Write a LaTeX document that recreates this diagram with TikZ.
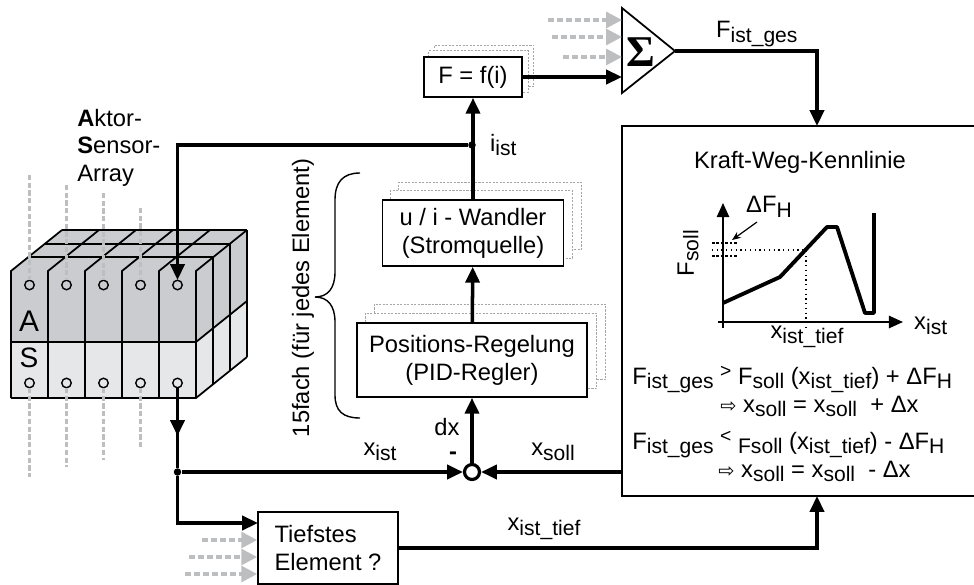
\documentclass[tikz,border=0pt]{standalone}
\usepackage{fontspec}
\setmainfont{Liberation Sans}
\newfontfamily\symf{DejaVu Sans}
\newfontfamily\sigf{Liberation Serif}
\usepackage{tikz}
\usetikzlibrary{calc, arrows.meta, positioning, backgrounds, decorations.markings}
\usepackage{xcolor}

\definecolor{actgray}{HTML}{CBCCCF}
\definecolor{sengray}{HTML}{E6E7E8}
\definecolor{ghostgray}{HTML}{BDBEC0}

% lowered subscript as set in the sketch
\newcommand{\sbs}[1]{\raisebox{-0.35ex}{\fontsize{12pt}{13pt}\selectfont #1}}

\tikzset{
  blk/.style={draw, fill=white, line width=1pt, align=center, inner sep=0pt},
  sig/.style={line width=2pt, -{Triangle[length=9pt,width=8pt]}},
  ghost/.style={draw=ghostgray, line width=1.9pt, dash pattern=on 3.5pt off 1.6pt,
    -{Triangle[length=9pt,width=9pt,fill=ghostgray]}},
  gline/.style={draw=ghostgray, line width=1.8pt, dash pattern=on 3pt off 1.4pt},
  shd/.style={draw=gray!70, fill=white, line width=0.5pt, dash pattern=on 1.2pt off 0.8pt},
  dot/.style={circle, fill, inner sep=0pt, minimum size=0.15cm},
  midarrow/.style={postaction={decorate}, decoration={markings,
    mark=at position 0.6 with {\arrow{Triangle[length=9pt,width=8pt]}}}}
}

\begin{document}
\begin{tikzpicture}[x=0.02cm, y=-0.02cm, font=\fontsize{13.5pt}{16pt}\selectfont]
  \useasboundingbox (0,0) rectangle (974,585);

  % --- Aktor-Sensor-Array (block with 5 columns visible) ---
  \fill[actgray] (11,271) -- (196,271) -- (247,230) -- (62,230) -- cycle;
  \fill[actgray] (196,271) -- (247,230) -- (247,301) -- (196,342) -- cycle;
  \fill[sengray] (196,342) -- (247,301) -- (247,357) -- (196,398) -- cycle;
  \fill[actgray] (11,271) rectangle (196,342);
  \fill[sengray] (11,342) rectangle (196,398);
  \begin{scope}[line width=1pt]
    \foreach \i in {0,...,5}
      \draw (11+37*\i,398) -- (11+37*\i,271) -- ++(51,-41);
    \foreach \k in {1,2,3} {
      \draw (11+17*\k,271-13.67*\k) -- ++(185,0);
      \draw (196+17*\k,271-13.67*\k) -- ++(0,127);
    }
    \draw (11,342) -- (196,342) -- (247,301);
    \draw (11,398) -- (196,398) -- (247,357);
  \end{scope}
  \foreach \i in {0,...,4} {
    \draw[fill=actgray, line width=0.8pt] (29.5+37*\i,285) circle (0.095cm);
    \draw[fill=sengray, line width=0.8pt] (29.5+37*\i,383) circle (0.095cm);
  }
  \node (alab) at (29,321) {\fontsize{17pt}{17pt}\selectfont A};
  \node (slab) at (29,358) {\fontsize{16pt}{16pt}\selectfont S};
  \foreach \x/\t/\b in {29.5/175/477, 66.5/185/467, 103.5/193/460, 140.5/208/448} {
    \draw[gline] (\x,\t) -- (\x,280);
    \draw[gline] (\x,388) -- (\x,\b);
  }
  \node[align=left, anchor=north west, inner sep=0pt, font=\fontsize{13.5pt}{15.6pt}\selectfont]
    (asa) at (77,109) {\textbf{A}ktor-\\\textbf{S}ensor-\\Array};

  % --- blocks ---
  \node[blk, minimum width=1.96cm, minimum height=0.8cm] (ffi) at (473,77) {F = f(i)};
  \node[blk, minimum width=3.62cm, minimum height=1.32cm] (uiw) at (473,233)
    {u / i - Wandler\\(Stromquelle)};
  \node[blk, minimum width=4.6cm, minimum height=1.48cm] (pid) at (472,360)
    {Positions-Regelung\\(PID-Regler)};
  \node[blk, minimum width=2.8cm, minimum height=1.44cm, align=left] (tief) at (328,548)
    {Tiefstes\\Element ?};
  \node[blk, minimum width=7.26cm, minimum height=7.4cm] (kwk) at (803.5,311) {};

  % stacked copies behind the per-element blocks
  \begin{scope}[on background layer]
    \foreach \b/\d in {ffi/5.5, uiw/8.5, pid/9}
      \foreach \k in {2,1}
        \draw[shd] ($(\b.south west)+(\k*\d,-\k*\d)$) rectangle ($(\b.north east)+(\k*\d,-\k*\d)$);
  \end{scope}

  % --- summation of all element forces ---
  \draw[line width=1pt, fill=white] (622,8) -- (675,51) -- (622,93) -- cycle;
  \node (sig) at (641,52) {\sigf\bfseries\fontsize{25pt}{25pt}\selectfont Σ};
  \coordinate (sumin) at (622,77);
  \coordinate (sumout) at (675,51);
  \foreach \y/\x in {20/548, 37/552, 57/563}
    \draw[ghost] (\x,\y) -- (sumin |- 0,\y);

  % --- comparator ---
  \node[circle, draw, fill=white, line width=1.8pt, minimum size=0.3cm, inner sep=0pt] (cmp) at (472,472) {};
  \node[dot] (iist) at (472,145) {};
  \node[dot] (xj) at (177.5,472) {};
  \coordinate (actin) at (177.5,280);
  \coordinate (sensout) at (177.5,388);
  \coordinate (tiefin) at (258,523);
  \coordinate (kin) at (817,496);
  \coordinate (ktop) at (817,126);

  % --- signal paths ---
  \draw[sig] (ffi) -- (sumin);
  \draw[sig] (uiw) -- (ffi);
  \draw[sig] (pid) -- (uiw);
  \draw[sig] (cmp) -- (pid);
  \draw[sig] (iist) -| (actin);
  \draw[line width=2pt, midarrow] (sensout) -- (xj);
  \draw[sig] (xj) -- (cmp);
  \draw[sig] (xj) |- (tiefin);
  \draw[sig] (kwk.west |- cmp) -- (cmp);
  \draw[sig] (tief.east) -| (kin);
  \draw[sig] (sumout) -| (ktop);
  \foreach \y/\x in {540/202, 557/189, 574/185}
    \draw[ghost] (\x,\y) -- (tief.west |- 0,\y);

  % --- labels ---
  \node[anchor=west] (liist) at (484,145) {i\sbs{ist}};
  \node[anchor=west] (lfges) at (710,34) {F\sbs{ist\_ges}};
  \node (lxist) at (380,452) {x\sbs{ist}};
  \node (lminus) at (453,456) {\textbf{-}};
  \node (ldx) at (447,427) {dx};
  \node (lxsoll) at (553,452) {x\sbs{soll}};
  \node (lxtief) at (544,529) {x\sbs{ist\_tief}};

  % 15fach brace
  \draw[line width=0.8pt] (360,173) .. controls (343,173) and (335,182) .. (335,200) -- (335,272)
    .. controls (335,288) and (328,297) .. (315,297)
    .. controls (328,297) and (335,306) .. (335,322) -- (335,395)
    .. controls (335,411) and (343,418) .. (360,418);
  \node[rotate=90] (lfach) at (303,298) {15fach (für jedes Element)};

  % --- Kraft-Weg-Kennlinie ---
  \node (ttl) at (800,162) {Kraft-Weg-Kennlinie};
  \draw[line width=1pt, -{Triangle[length=8pt,width=7pt]}] (723,328) -- (723,203);
  \draw[line width=1pt, -{Triangle[length=8pt,width=7pt]}] (718,322) -- (903,322);
  \draw[line width=0.7pt, dash pattern=on 1.5pt off 1pt] (712,243) -- (737,243) (712,256) -- (737,256);
  \draw[line width=0.7pt, dotted] (712,250) -- (806,250) -- (806,330);
  \draw[line width=2.2pt, line join=round]
    (723,303) -- (780,277) -- (827,227) -- (837,227) -- (865,313) -- (874,313) -- (874,213);
  \node[anchor=west] (dfh) at (740,207) {ΔF\sbs{H}};
  \coordinate (dfhtip) at (732,240);
  \draw[line width=0.7pt, -{Stealth[length=5pt,width=4pt]}] (757,222) -- (dfhtip);
  \node[rotate=90] (ylab) at (688,253) {F\sbs{soll}};
  \node (xtief) at (807,337) {x\sbs{ist\_tief}};
  \node[anchor=west] (xlab) at (908,326) {x\sbs{ist}};

  \node[anchor=base west, inner sep=0pt] (rule1) at (632,384)
    {F\sbs{ist\_ges} \raisebox{0.5ex}{\fontsize{11pt}{12pt}\selectfont >} F\sbs{soll} (x\sbs{ist\_tief}) + ΔF\sbs{H}};
  \node[anchor=base west, inner sep=0pt] (rule2) at (720,412)
    {{\symf\fontsize{11pt}{12pt}\selectfont ⇨} x\sbs{soll} = x\sbs{soll} \ + Δx};
  \node[anchor=base west, inner sep=0pt] (rule3) at (632,449)
    {F\sbs{ist\_ges} \raisebox{0.5ex}{\fontsize{11pt}{12pt}\selectfont <} \sbs{Fsoll} (x\sbs{ist\_tief}) - ΔF\sbs{H}};
  \node[anchor=base west, inner sep=0pt] (rule4) at (718,477)
    {{\symf\fontsize{11pt}{12pt}\selectfont ⇨} x\sbs{soll} = x\sbs{soll} \ - Δx};
\end{tikzpicture}
\end{document}
